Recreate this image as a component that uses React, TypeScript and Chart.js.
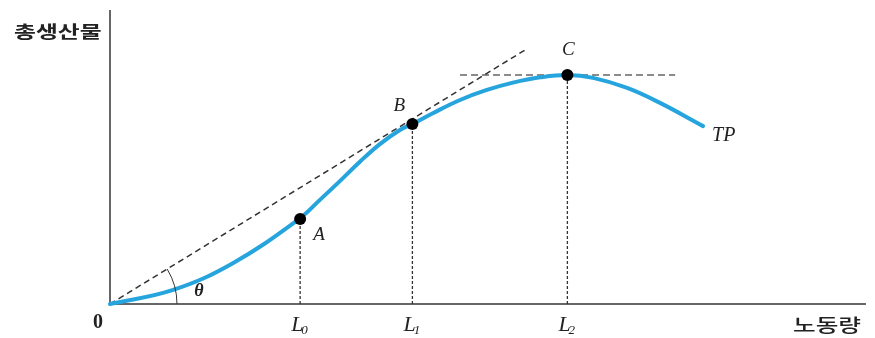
import React, { useEffect, useRef } from "react";
import { Chart, registerables } from "chart.js";

Chart.register(...registerables);

// ---- data ----
const laborX = [0, 1.67, 3.25, 5.0, 5.56, 6.08, 6.61, 7.14, 7.67, 8.0, 8.54, 9.26, 9.97, 10.66, 11.38, 12.1, 12.78, 13.68, 14.55, 15.69];
const outputY = [0, 4.8, 13.9, 28.9, 35.5, 41.8, 48.4, 54.4, 59.2, 61.2, 64.9, 69.4, 72.8, 75.3, 77.1, 77.9, 76.9, 73.5, 68.4, 60.5];

const pointNames = ["A", "B", "C"];
const pointX = [5.03, 8, 12.1];
const pointY = [28.9, 61.2, 77.9];

const tickNames = ["L", "L", "L"];
const tickSubs = ["0", "1", "2"];

const rayEnd = [10.98, 86.4];
const flatLineX = [9.26, 14.95];

const xMax = 20;
const yMax = 100;

const yTitle = "총생산물";
const xTitle = "노동량";
const originLabel = "0";
const curveLabel = "TP";
const angleLabel = "θ";

function drawScaled(ctx: CanvasRenderingContext2D, text: string, x: number, y: number, font: string, sx: number) {
  ctx.save();
  ctx.translate(x, y);
  ctx.scale(sx, 1);
  ctx.font = font;
  ctx.fillText(text, 0, 0);
  ctx.restore();
}

const labelPlugin = {
  id: "labels",
  afterDatasetsDraw(chart: any) {
    const { ctx } = chart;
    const xs = chart.scales.x;
    const ys = chart.scales.y;
    const px = (v: number) => xs.getPixelForValue(v);
    const py = (v: number) => ys.getPixelForValue(v);
    const ox = px(0);
    const oy = py(0);

    ctx.save();
    ctx.fillStyle = "#222";

    // axis titles
    ctx.textAlign = "left";
    ctx.textBaseline = "middle";
    drawScaled(ctx, yTitle, 14, 32, 'bold 17px "Noto Sans CJK KR"', 1.4);
    drawScaled(ctx, xTitle, 793, 325, '500 18px "Noto Sans CJK KR"', 1.37);

    // origin
    ctx.textAlign = "center";
    ctx.font = 'bold 20px "Liberation Serif"';
    ctx.fillText(originLabel, ox - 12, oy + 19);

    // tick labels L0, L1, L2
    tickNames.forEach((t, i) => {
      const cx = px(pointX[i]);
      ctx.textAlign = "left";
      ctx.textBaseline = "alphabetic";
      ctx.font = 'italic 22px "Liberation Serif"';
      ctx.fillText(t, cx - 9, oy + 27);
      const w = ctx.measureText(t).width;
      ctx.font = 'italic 13px "Liberation Serif"';
      ctx.fillText(tickSubs[i], cx - 9 + w - 2, oy + 30);
    });

    // point labels
    const offs = [[19, 16], [-13, -18], [1, -25]];
    ctx.textAlign = "center";
    ctx.textBaseline = "middle";
    ctx.font = 'italic 19px "Liberation Serif"';
    pointNames.forEach((n, i) => {
      ctx.fillText(n, px(pointX[i]) + offs[i][0], py(pointY[i]) + offs[i][1]);
    });

    // TP label
    const last = laborX.length - 1;
    ctx.textAlign = "left";
    ctx.font = 'italic 20px "Liberation Serif"';
    ctx.fillText(curveLabel, px(laborX[last]) + 9, py(outputY[last]) + 10);

    // theta arc
    const ang = Math.atan2(oy - py(rayEnd[1]), px(rayEnd[0]) - ox);
    ctx.strokeStyle = "#333";
    ctx.lineWidth = 1;
    ctx.beginPath();
    ctx.arc(ox, oy, 67, -ang, 0);
    ctx.stroke();
    ctx.textAlign = "center";
    ctx.font = 'italic bold 18px "Liberation Serif"';
    ctx.fillText(angleLabel, ox + 89, oy - 13);

    ctx.restore();
  },
};

export default function App() {
  const ref = useRef<HTMLCanvasElement>(null);

  useEffect(() => {
    if (!ref.current) return;
    const dashColor = "#333";
    const vlines = pointX.map((xv, i) => ({
      type: "line" as const,
      data: [{ x: xv, y: 0 }, { x: xv, y: pointY[i] }],
      borderColor: dashColor,
      borderWidth: 1.3,
      borderDash: [3, 2],
      pointRadius: 0,
      clip: false as any,
      order: 3,
    }));
    const chart = new Chart(ref.current, {
      type: "line",
      data: {
        datasets: [
          {
            data: pointX.map((xv, i) => ({ x: xv, y: pointY[i] })),
            showLine: false,
            pointRadius: 6,
            pointBackgroundColor: "#000",
            pointBorderWidth: 0,
            clip: false as any,
            order: 0,
          },
          {
            data: laborX.map((xv, i) => ({ x: xv, y: outputY[i] })),
            borderColor: "#25a4dd",
            borderWidth: 4,
            pointRadius: 0,
            tension: 0.4,
            borderCapStyle: "round",
            clip: false as any,
            order: 1,
          },
          {
            data: [{ x: 0, y: 0 }, { x: rayEnd[0], y: rayEnd[1] }],
            borderColor: dashColor,
            borderWidth: 1.5,
            borderDash: [6, 4],
            pointRadius: 0,
            clip: false as any,
            order: 2,
          },
          {
            data: [{ x: flatLineX[0], y: pointY[2] }, { x: flatLineX[1], y: pointY[2] }],
            borderColor: "#666",
            borderWidth: 1.5,
            borderDash: [7, 4],
            pointRadius: 0,
            clip: false as any,
            order: 2,
          },
          ...vlines,
          {
            data: [{ x: 0, y: yMax }, { x: 0, y: 0 }, { x: xMax, y: 0 }],
            borderColor: "#666",
            borderWidth: 2,
            pointRadius: 0,
            clip: false as any,
            order: 4,
          },
        ] as any,
      },
      options: {
        animation: false,
        responsive: false,
        devicePixelRatio: 1,
        layout: { padding: { left: 110, right: 9, top: 10, bottom: 34 } },
        plugins: { legend: { display: false }, tooltip: { enabled: false } },
        scales: {
          x: { type: "linear", min: 0, max: xMax, display: false },
          y: { type: "linear", min: 0, max: yMax, display: false },
        },
      },
      plugins: [labelPlugin],
    });
    return () => chart.destroy();
  }, []);

  return (
    <div style={{ position: "fixed", left: 0, top: 0, width: 875, height: 338, background: "#fff" }}>
      <canvas ref={ref} width={875} height={338} />
    </div>
  );
}
